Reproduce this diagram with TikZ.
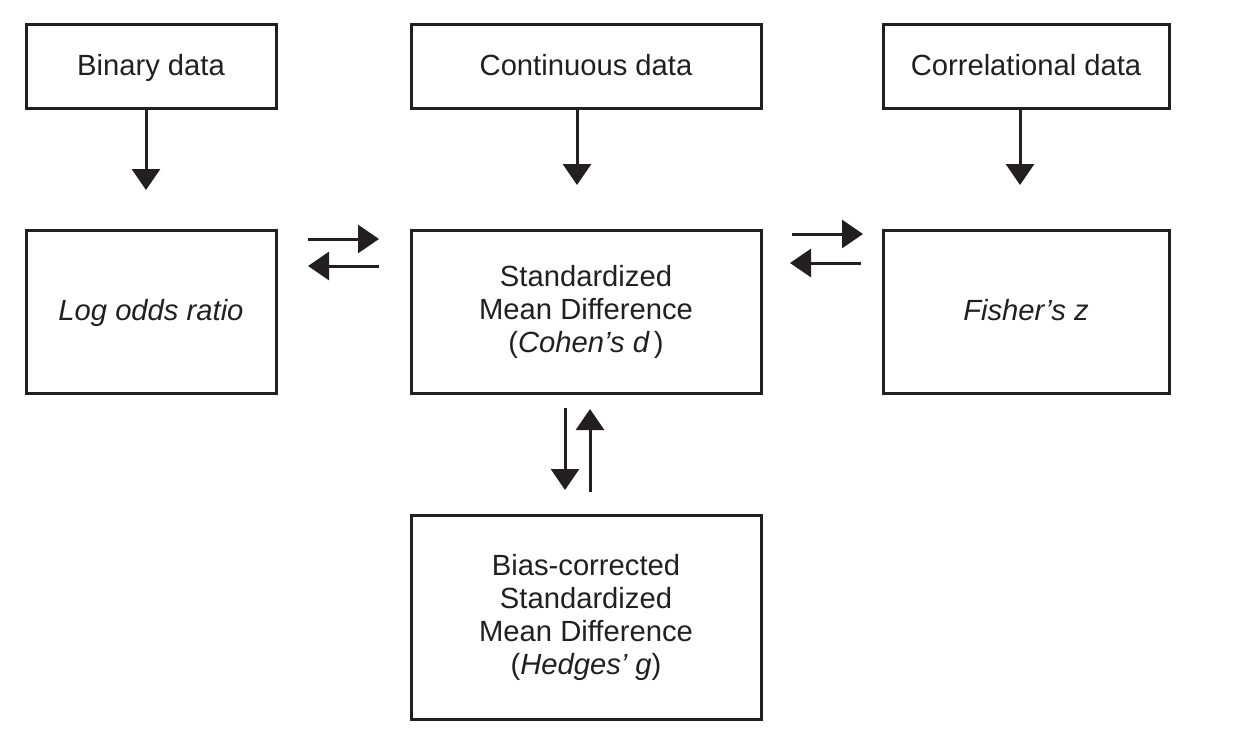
\documentclass[tikz,border=0pt]{standalone}
\usepackage{fontspec}
\setmainfont{Liberation Sans}
\usetikzlibrary{arrows.meta}
\definecolor{ink}{HTML}{231F20}
\begin{document}
\begin{tikzpicture}[x=1pt,y=-1pt,
  box/.style={draw=ink, line width=3pt, inner sep=0pt, align=center, text=ink,
    font=\fontsize{29.2}{33}\selectfont},
  oneline/.style={text height=22pt, text depth=4pt},
  conn/.style={draw=ink, line width=3pt, -{Triangle[width=28pt,length=21pt]}}]
\useasboundingbox (0,0) rectangle (1239,755);
\node[box, oneline, minimum width=250pt, minimum height=84pt] (bin) at (151,66) {Binary data};
\node[box, oneline, minimum width=350pt, minimum height=84pt] (cont) at (586,66) {Continuous data};
\node[box, oneline, minimum width=286pt, minimum height=84pt] (corr) at (1026,66) {Correlational data};
\node[box, oneline, minimum width=250pt, minimum height=163pt] (lor) at (151,311.5) {\itshape Log odds ratio};
\node[box, minimum width=350pt, minimum height=163pt] (smd) at (586,311.5) {Standardized\\Mean Difference\\(\textit{Cohen’s d\,})};
\node[box, oneline, minimum width=286pt, minimum height=163pt] (fz) at (1026,311.5) {\itshape Fisher’s z};
\node[box, minimum width=350pt, minimum height=204pt] (bc) at (586,617) {Bias-corrected\\Standardized\\Mean Difference\\(\textit{Hedges’ g})};
% free ends
\coordinate (binE) at (146,190);
\coordinate (contE) at (577,185);
\coordinate (corrE) at (1020,185);
\coordinate (l1a) at (308,239); \coordinate (l1b) at (379,239);
\coordinate (l2a) at (379,266); \coordinate (l2b) at (308,266);
\coordinate (r1a) at (792,234); \coordinate (r1b) at (863,234);
\coordinate (r2a) at (861,263); \coordinate (r2b) at (790,263);
\coordinate (v1a) at (565,408); \coordinate (v1b) at (565,490);
\coordinate (v2a) at (590,492); \coordinate (v2b) at (590,409);
\draw[conn] (bin.south -| binE) -- (binE);
\draw[conn] (cont.south -| contE) -- (contE);
\draw[conn] (corr.south -| corrE) -- (corrE);
\draw[conn] (l1a) -- (l1b);
\draw[conn] (l2a) -- (l2b);
\draw[conn] (r1a) -- (r1b);
\draw[conn] (r2a) -- (r2b);
\draw[conn] (v1a) -- (v1b);
\draw[conn] (v2a) -- (v2b);
\end{tikzpicture}
\end{document}
